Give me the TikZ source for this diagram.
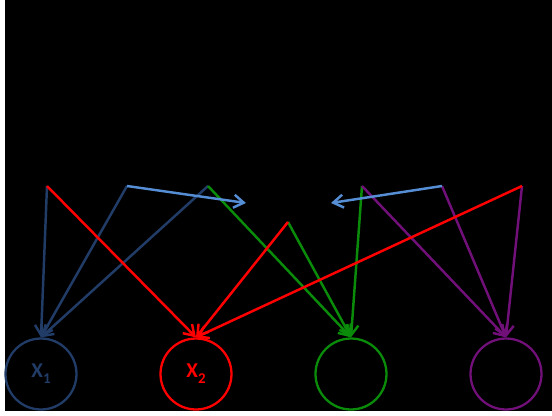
\documentclass[tikz,border=0pt]{standalone}
\usepackage{fontspec}
\setmainfont{Carlito}
\usetikzlibrary{arrows.meta}

\definecolor{navy}{RGB}{34,60,104}
\definecolor{skyblue}{RGB}{85,142,213}
\definecolor{leafgreen}{RGB}{10,140,10}
\definecolor{plum}{RGB}{112,16,120}

\newcommand{\lowidx}[1]{{\fontsize{8.5}{9}\selectfont\raisebox{-3.4pt}{#1}}}

\begin{document}
\begin{tikzpicture}[x=0.02cm, y=-0.02cm,
    var/.style={circle, minimum size=1.42cm, inner sep=0pt, line width=1.3pt,
                font=\fontsize{12}{14}\selectfont\bfseries},
    link/.style={-{Straight Barb[length=2mm, width=2.6mm]}, line width=1.4pt}]

    % background
    \fill[white] (0,0) rectangle (552,416);
    \fill[black] (5,0) rectangle (552,411);

    % variables (bottom row)
    \node[var, draw=navy, text=navy] (x1) at (41,374) {X\lowidx{1}};
    \node[var, draw=red, text=red] (x2) at (196,374) {X\lowidx{2}};
    \node[var, draw=leafgreen] (x3) at (351,374) {};
    \node[var, draw=plum] (x4) at (506,374) {};

    % sources (top row)
    \coordinate (s1) at (47,186);
    \coordinate (s2) at (127,186);
    \coordinate (s3) at (208,186);
    \coordinate (s4) at (288,222);
    \coordinate (s5) at (362,186);
    \coordinate (s6) at (442,186);
    \coordinate (s7) at (522,186);
    \coordinate (e1) at (246,203);
    \coordinate (e2) at (331,203);

    % connections
    \draw[link, navy] (s1) -- (x1.north);
    \draw[link, navy] (s2) -- (x1.north);
    \draw[link, navy] (s3) -- (x1.north);
    \draw[link, leafgreen] (s3) -- (x3.north);
    \draw[link, leafgreen] (s4) -- (x3.north);
    \draw[link, leafgreen] (s5) -- (x3.north);
    \draw[link, plum] (s5) -- (x4.north);
    \draw[link, plum] (s6) -- (x4.north);
    \draw[link, plum] (s7) -- (x4.north);
    \draw[link, red] (s1) -- (x2.north);
    \draw[link, red] (s4) -- (x2.north);
    \draw[link, red] (s7) -- (x2.north);
    \draw[link, skyblue] (s2) -- (e1);
    \draw[link, skyblue] (s6) -- (e2);

\end{tikzpicture}
\end{document}
